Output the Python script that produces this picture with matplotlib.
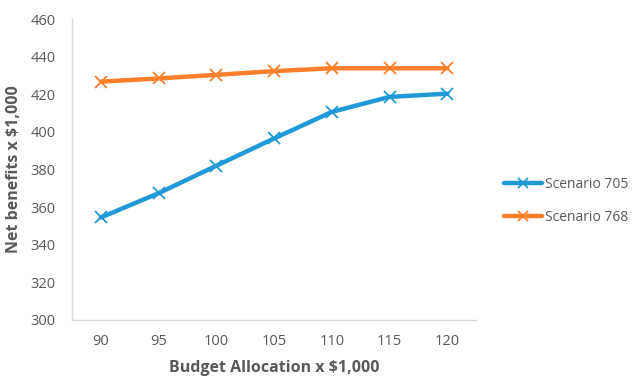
import matplotlib
matplotlib.use("Agg")
import matplotlib.pyplot as plt

budget = ["90", "95", "100", "105", "110", "115", "120"]
scenario_705 = [354.5, 367.4, 382.0, 396.5, 410.6, 418.6, 420.3]
scenario_768 = [426.7, 428.4, 430.3, 432.3, 433.8, 433.8, 433.8]
y_ticks = [300, 320, 340, 360, 380, 400, 420, 440, 460]

plt.rcParams["font.family"] = ["Open Sans", "DejaVu Sans"]

fig = plt.figure(figsize=(6.34, 3.77), dpi=100)
ax = fig.add_axes([0.1136, 0.1512, 0.6374, 0.7984])

x = list(range(len(budget)))
ax.plot(x, scenario_705, color="#1F9AD6", lw=3.2, marker="x", ms=8,
        mew=1.3, label="Scenario 705", solid_capstyle="round")
ax.plot(x, scenario_768, color="#FF7F2A", lw=3.2, marker="x", ms=8,
        mew=1.3, label="Scenario 768", solid_capstyle="round")

ax.set_xlim(-0.5, len(budget) - 0.5)
ax.set_ylim(300, 460)
ax.set_xticks(x)
ax.set_xticklabels(budget)
ax.set_yticks(y_ticks)
ax.tick_params(length=0, labelsize=10.5, labelcolor="#595959", pad=10)
ax.tick_params(axis="y", pad=12)

for side in ("top", "right"):
    ax.spines[side].set_visible(False)
for side in ("left", "bottom"):
    ax.spines[side].set_color("#D9D9D9")
    ax.spines[side].set_linewidth(1.0)

ax.set_xlabel("Budget Allocation x $1,000", fontsize=11.5, fontweight="bold",
              color="#595959", labelpad=8)
ax.set_ylabel("Net benefits x $1,000", fontsize=11.5, fontweight="bold",
              color="#595959", labelpad=6)

leg = fig.legend(loc="center left", bbox_to_anchor=(0.776, 0.467),
                 frameon=False, fontsize=10, handlelength=2.7,
                 handletextpad=0.2, labelspacing=1.25)
for t in leg.get_texts():
    t.set_color("#595959")
for h in leg.legend_handles:
    h.set_markersize(6.5)

fig.savefig("out.png", dpi=100)
